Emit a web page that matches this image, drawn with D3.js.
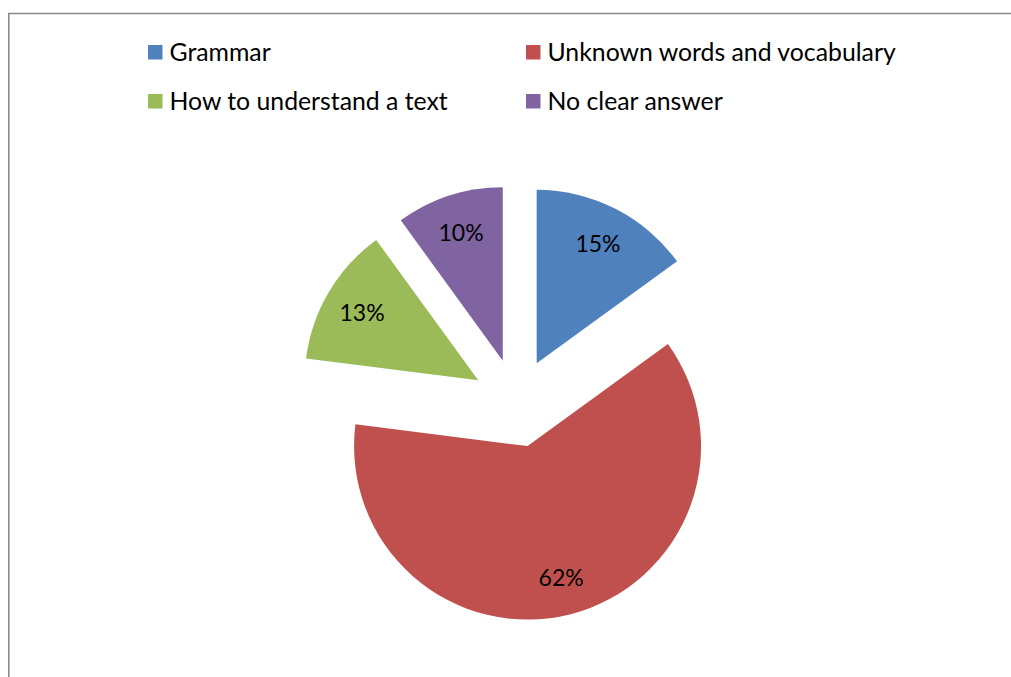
<!DOCTYPE html>
<html>
<head>
<meta charset="utf-8">
<script src="https://cdn.jsdelivr.net/npm/d3@7"></script>
<style>
  html, body { margin: 0; padding: 0; background: #fff; overflow: hidden; }
  svg { display: block; }
</style>
</head>
<body>
<svg id="chart" width="1011" height="677"></svg>
<script>
// Survey answers: main difficulty when reading
const categories = ["Grammar", "Unknown words and vocabulary", "How to understand a text", "No clear answer"];
const values = [15, 62, 13, 10];
const colors = ["#4F81BD", "#C0504D", "#9BBB59", "#8064A2"];

const W = 1011, H = 677;
const svg = d3.select("#chart");
const font = "Lato, 'Open Sans', sans-serif";

// chart frame: top and left edges
svg.append("path")
  .attr("d", `M8.8,${H}V13.5H${W}`)
  .attr("fill", "none")
  .attr("stroke", "#8a8a8a")
  .attr("stroke-width", 1.6);

// exploded pie
const cx = 516.5, cy = 403, r = 173.5, explode = 44.5, labelR = 135;

const pie = d3.pie().sort(null).value(d => d).startAngle(0).endAngle(2 * Math.PI);
const arcs = pie(values);
const arc = d3.arc().innerRadius(0).outerRadius(r);
const pct = d3.format(".0%");
const total = d3.sum(values);

const g = svg.append("g").attr("transform", `translate(${cx},${cy})`);

const slice = g.selectAll("g.slice")
  .data(arcs)
  .join("g")
  .attr("class", "slice")
  .attr("transform", d => {
    const a = (d.startAngle + d.endAngle) / 2;
    return `translate(${explode * Math.sin(a)},${-explode * Math.cos(a)})`;
  });

slice.append("path")
  .attr("d", arc)
  .attr("fill", (d, i) => colors[i]);

slice.append("text")
  .attr("x", d => labelR * Math.sin((d.startAngle + d.endAngle) / 2))
  .attr("y", d => -labelR * Math.cos((d.startAngle + d.endAngle) / 2))
  .attr("text-anchor", "middle")
  .attr("dominant-baseline", "central")
  .attr("font-family", font)
  .attr("font-size", 23)
  .attr("fill", "#000")
  .text(d => pct(d.value / total));

// legend: two columns, two rows
const legendX = [148, 526], legendY = [45, 94];
const legend = svg.selectAll("g.legend")
  .data(categories)
  .join("g")
  .attr("class", "legend")
  .attr("transform", (d, i) => `translate(${legendX[i % 2]},${legendY[Math.floor(i / 2)]})`);

legend.append("rect")
  .attr("width", 14.5).attr("height", 14.5)
  .attr("fill", (d, i) => colors[i]);

legend.append("text")
  .attr("x", 21.5)
  .attr("y", 16)
  .attr("font-family", font)
  .attr("font-size", 24.8)
  .attr("fill", "#000")
  .text(d => d);
</script>
</body>
</html>
